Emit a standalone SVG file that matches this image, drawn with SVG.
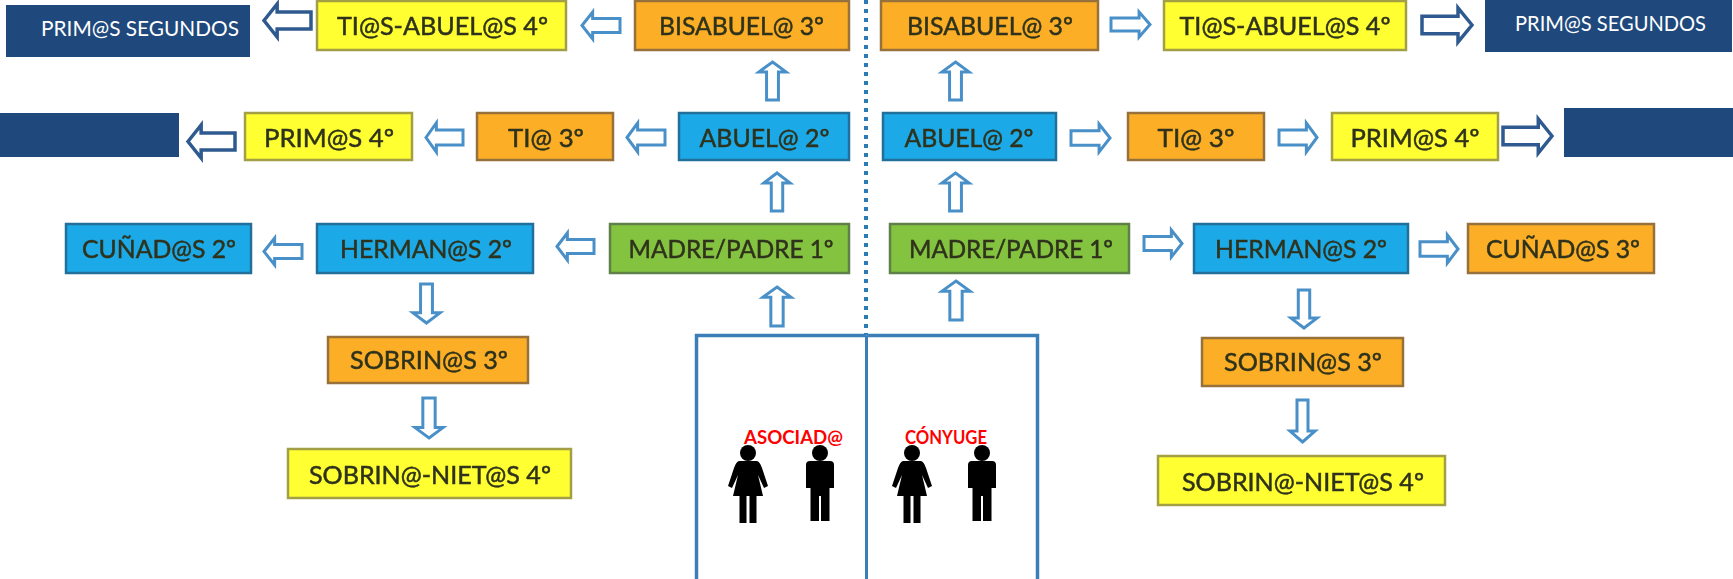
<svg xmlns="http://www.w3.org/2000/svg" width="1733" height="579" viewBox="0 0 1733 579">
<style>
.b{stroke-width:2.500;filter:url(#p)}
.y{fill:#ffff33;stroke:#a39f45}
.o{fill:#fbae28;stroke:#96713a}
.c{fill:#1fa9e8;stroke:#20709a}
.g{fill:#84c341;stroke:#5f8048}
.n{fill:#1f497d}
.t{font-family:Lato,"Liberation Sans",sans-serif;font-size:25px;text-anchor:middle;fill:#2f331c;stroke:#2f331c;stroke-width:.5px;filter:url(#s)}
.w{font-family:Lato,"Liberation Sans",sans-serif;font-size:21px;text-anchor:middle;fill:#fff}
.r{font-family:Lato,"Liberation Sans",sans-serif;font-weight:700;font-size:19px;text-anchor:middle;fill:#f00}
.a{fill:#fff;stroke:#4a90c8;stroke-width:3}
.A{fill:#fff;stroke:#2f5a8f;stroke-width:3.500}
.l{fill:none;stroke:#3c7fb8}
.f{filter:url(#p)}
</style>
<defs>
<filter id="s" x="-5%" y="-20%" width="110%" height="140%"><feGaussianBlur stdDeviation="0.6"/></filter>
<filter id="p" x="-5%" y="-5%" width="110%" height="110%"><feGaussianBlur stdDeviation="0.4"/></filter>
<path id="h" vector-effect="non-scaling-stroke" d="M0 .5L.28 0V.24H1V.76H.28V1Z"/>
<path id="v" vector-effect="non-scaling-stroke" d="M.5 0L1 .26H.72V1H.28V.26H0Z"/>
<g id="woman"><circle cx="0" cy="-8" r="8"/><path d="M-9 0H9Q12 1 14 7L20 25 16 27 10 14 15 35H8.500V62H1.500V35H-1.500V62H-8.500V35H-15L-10 14-16 27-20 25-14 7Q-12 1-9 0Z"/></g>
<g id="man"><circle cx="0" cy="-8" r="8"/><path d="M-10 0H10Q14 0 14 4V27H9.500V60H1V35H-1V60H-9.500V27H-14V4Q-14 0-10 0Z"/></g>
</defs>
<rect width="1733" height="579" fill="#fff"/>
<g id="connectors">
<path d="M866 0V335" fill="none" stroke="#2a7bb8" stroke-width="4" stroke-dasharray="4 5"/>
<use href="#h" class="A" transform="translate(264 4) scale(47 33)"/>
<use href="#h" class="a" transform="translate(582 12) scale(38 27)"/>
<use href="#h" class="A" transform="translate(188 125) scale(47 33)"/>
<use href="#h" class="a" transform="translate(426 123) scale(37 29)"/>
<use href="#h" class="a" transform="translate(627 123) scale(38 29)"/>
<use href="#h" class="a" transform="translate(264 238) scale(38 27)"/>
<use href="#h" class="a" transform="translate(557 233) scale(37 27)"/>
<use href="#h" class="a" transform="translate(1150 12) scale(-39 25)"/>
<use href="#h" class="A" transform="translate(1472 8) scale(-50 34)"/>
<use href="#h" class="a" transform="translate(1110 124) scale(-39 28)"/>
<use href="#h" class="a" transform="translate(1317 123) scale(-38 29)"/>
<use href="#h" class="A" transform="translate(1552 119) scale(-49 34)"/>
<use href="#h" class="a" transform="translate(1182 230) scale(-38 27)"/>
<use href="#h" class="a" transform="translate(1458 235) scale(-38 28)"/>
<use href="#v" class="a" transform="translate(759 62) scale(27 38)"/>
<use href="#v" class="a" transform="translate(764 173) scale(26 38)"/>
<use href="#v" class="a" transform="translate(763 287) scale(28 39)"/>
<use href="#v" class="a" transform="translate(942 62) scale(27 38)"/>
<use href="#v" class="a" transform="translate(942 173) scale(27 38)"/>
<use href="#v" class="a" transform="translate(942 281) scale(28 39)"/>
<use href="#v" class="a" transform="translate(413 323) scale(27 -39)"/>
<use href="#v" class="a" transform="translate(415 438) scale(28 -40)"/>
<use href="#v" class="a" transform="translate(1291 328) scale(26 -38)"/>
<use href="#v" class="a" transform="translate(1290 442) scale(25 -42)"/>
</g>
<g id="primos-segundos-izq"><rect class="n" x="6" y="5" width="244" height="52"/><text class="w" x="140" y="36" textLength="198" lengthAdjust="spacingAndGlyphs">PRIM@S SEGUNDOS</text></g>
<g id="ti-abuelos-izq"><rect class="b y" x="317" y="1" width="249" height="49"/><text class="t" x="442.500" y="35" textLength="211" lengthAdjust="spacingAndGlyphs">TI@S-ABUEL@S 4º</text></g>
<g id="bisabuelo-izq"><rect class="b o" x="635" y="1" width="214" height="49"/><text class="t" x="741.500" y="35" textLength="165" lengthAdjust="spacingAndGlyphs">BISABUEL@ 3º</text></g>
<g id="primos-vacio-izq"><rect class="n" x="0" y="113" width="179" height="44"/></g>
<g id="primos-izq"><rect class="b y" x="245" y="113" width="167" height="47"/><text class="t" x="329" y="147" textLength="130" lengthAdjust="spacingAndGlyphs">PRIM@S 4º</text></g>
<g id="tio-izq"><rect class="b o" x="477" y="113" width="136" height="47"/><text class="t" x="546" y="147" textLength="76" lengthAdjust="spacingAndGlyphs">TI@ 3º</text></g>
<g id="abuelo-izq"><rect class="b c" x="679" y="113" width="170" height="47"/><text class="t" x="764.500" y="147" textLength="130" lengthAdjust="spacingAndGlyphs">ABUEL@ 2º</text></g>
<g id="cunados-izq"><rect class="b c" x="66" y="224" width="185" height="49"/><text class="t" x="159" y="258" textLength="154" lengthAdjust="spacingAndGlyphs">CUÑAD@S 2º</text></g>
<g id="hermanos-izq"><rect class="b c" x="317" y="224" width="216" height="49"/><text class="t" x="426" y="258" textLength="172" lengthAdjust="spacingAndGlyphs">HERMAN@S 2º</text></g>
<g id="madre-izq"><rect class="b g" x="610" y="224" width="239" height="49"/><text class="t" x="731" y="258" textLength="205" lengthAdjust="spacingAndGlyphs">MADRE/PADRE 1º</text></g>
<g id="sobrinos-izq"><rect class="b o" x="328" y="337" width="200" height="46"/><text class="t" x="429" y="369" textLength="158" lengthAdjust="spacingAndGlyphs">SOBRIN@S 3º</text></g>
<g id="sobrinos-nietos-izq"><rect class="b y" x="288" y="449" width="283" height="49"/><text class="t" x="430" y="484" textLength="242" lengthAdjust="spacingAndGlyphs">SOBRIN@-NIET@S 4º</text></g>
<g id="bisabuelo-der"><rect class="b o" x="881" y="1" width="217" height="49"/><text class="t" x="990" y="35" textLength="166" lengthAdjust="spacingAndGlyphs">BISABUEL@ 3º</text></g>
<g id="ti-abuelos-der"><rect class="b y" x="1164" y="1" width="242" height="49"/><text class="t" x="1285" y="35" textLength="211" lengthAdjust="spacingAndGlyphs">TI@S-ABUEL@S 4º</text></g>
<g id="primos-segundos-der"><rect class="n" x="1485" y="0" width="247" height="52"/><text class="w" x="1610.500" y="31" textLength="191" lengthAdjust="spacingAndGlyphs">PRIM@S SEGUNDOS</text></g>
<g id="abuelo-der"><rect class="b c" x="883" y="113" width="173" height="47"/><text class="t" x="969" y="147" textLength="129" lengthAdjust="spacingAndGlyphs">ABUEL@ 2º</text></g>
<g id="tio-der"><rect class="b o" x="1128" y="113" width="136" height="47"/><text class="t" x="1196" y="147" textLength="77" lengthAdjust="spacingAndGlyphs">TI@ 3º</text></g>
<g id="primos-der"><rect class="b y" x="1332" y="113" width="166" height="47"/><text class="t" x="1415" y="147" textLength="129" lengthAdjust="spacingAndGlyphs">PRIM@S 4º</text></g>
<g id="primos-vacio-der"><rect class="n" x="1564" y="108" width="169" height="49"/></g>
<g id="madre-der"><rect class="b g" x="890" y="224" width="239" height="49"/><text class="t" x="1011" y="258" textLength="204" lengthAdjust="spacingAndGlyphs">MADRE/PADRE 1º</text></g>
<g id="hermanos-der"><rect class="b c" x="1194" y="224" width="214" height="49"/><text class="t" x="1301" y="258" textLength="172" lengthAdjust="spacingAndGlyphs">HERMAN@S 2º</text></g>
<g id="cunados-der"><rect class="b o" x="1468" y="224" width="186" height="49"/><text class="t" x="1563" y="258" textLength="154" lengthAdjust="spacingAndGlyphs">CUÑAD@S 3º</text></g>
<g id="sobrinos-der"><rect class="b o" x="1202" y="338" width="201" height="48"/><text class="t" x="1303" y="371" textLength="158" lengthAdjust="spacingAndGlyphs">SOBRIN@S 3º</text></g>
<g id="sobrinos-nietos-der"><rect class="b y" x="1158" y="456" width="287" height="49"/><text class="t" x="1303" y="491" textLength="242" lengthAdjust="spacingAndGlyphs">SOBRIN@-NIET@S 4º</text></g>
<g id="asociado">
<path class="l" stroke-width="3.500" d="M696.500 579V335.500H866.500"/>
<path class="l" stroke-width="3" d="M866.500 336V579"/>
<use href="#woman" class="f" transform="translate(748 461)"/>
<use href="#man" class="f" transform="translate(820 461)"/>
<text class="r" x="793.500" y="444" textLength="99" lengthAdjust="spacingAndGlyphs">ASOCIAD@</text>
</g>
<g id="conyuge">
<path class="l" stroke-width="3.500" d="M866.500 335.500H1037.500V579"/>
<use href="#woman" class="f" transform="translate(912 461)"/>
<use href="#man" class="f" transform="translate(982 461)"/>
<text class="r" x="946" y="444" textLength="82" lengthAdjust="spacingAndGlyphs">CÓNYUGE</text>
</g>
</svg>
